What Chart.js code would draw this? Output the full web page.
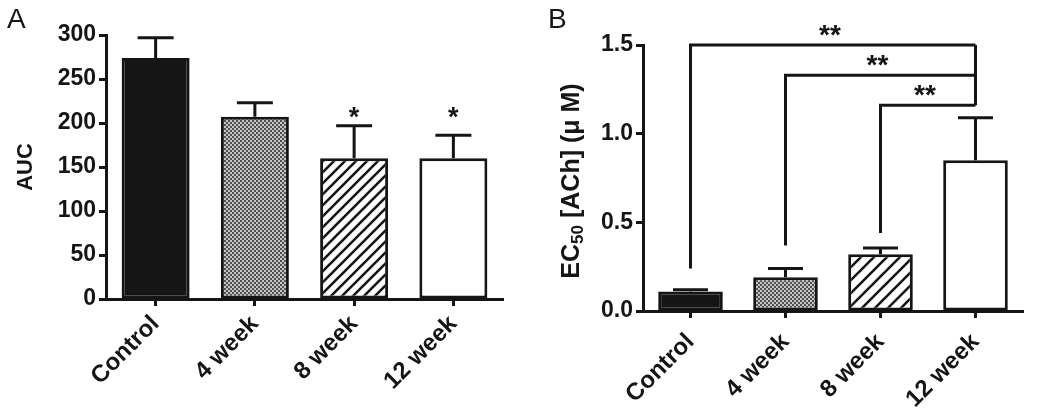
<!DOCTYPE html>
<html>
<head>
<meta charset="utf-8">
<script src="https://cdn.jsdelivr.net/npm/chart.js@4.4.0/dist/chart.umd.min.js"></script>
<style>
  body { margin: 0; background: #fff; }
  #wrap { position: relative; width: 1050px; height: 410px; }
  #chartA { position: absolute; left: 0; top: 0; }
  #chartB { position: absolute; left: 520px; top: 0; }
</style>
</head>
<body>
<div id="wrap">
  <canvas id="chartA" width="520" height="410"></canvas>
  <canvas id="chartB" width="530" height="410"></canvas>
</div>
<script>
const groups = ['Control', '4 week', '8 week', '12 week'];

// panel A - AUC
const aucMean = [274, 207, 160, 160];
const aucSem = [23, 16, 37, 26];
const aucStars = ['', '', '*', '*'];
const aucStarLevel = 212;
const aucTicks = [0, 50, 100, 150, 200, 250, 300];

// panel B - EC50
const ec50Mean = [0.11, 0.19, 0.32, 0.85];
const ec50Sem = [0.01, 0.05, 0.035, 0.24];
const ec50Ticks = [0.0, 0.5, 1.0, 1.5];
// comparisons against 12 week
const compFrom = [0, 1, 2];
const compTo = 3;
const compLevel = [1.5, 1.33, 1.16];
const compDrop = [0.24, 0.37, 0.44];
const compLabel = ['**', '**', '**'];

const ink = '#151515';
const fontFam = '"Liberation Sans", Arial, sans-serif';

function dotPattern(ctx) {
  const c = document.createElement('canvas');
  c.width = 4; c.height = 4;
  const g = c.getContext('2d');
  g.fillStyle = '#c4c4c4';
  g.fillRect(0, 0, 4, 4);
  g.fillStyle = '#505050';
  g.fillRect(0, 0, 2, 2);
  g.fillRect(2, 2, 2, 2);
  return ctx.createPattern(c, 'repeat');
}

function hatchPattern(ctx, size, lw) {
  const c = document.createElement('canvas');
  c.width = size; c.height = size;
  const g = c.getContext('2d');
  g.fillStyle = '#fff';
  g.fillRect(0, 0, size, size);
  g.strokeStyle = ink;
  g.lineWidth = lw;
  g.beginPath();
  g.moveTo(-2, size + 2); g.lineTo(size + 2, -2);
  g.moveTo(-2, 2); g.lineTo(2, -2);
  g.moveTo(size - 2, size + 2); g.lineTo(size + 2, size - 2);
  g.stroke();
  return ctx.createPattern(c, 'repeat');
}

function errorBars(sem, cap) {
  return {
    id: 'errorBars',
    afterDatasetsDraw(chart) {
      const ctx = chart.ctx;
      const y = chart.scales.y;
      const vals = chart.data.datasets[0].data;
      ctx.save();
      ctx.strokeStyle = ink;
      ctx.lineWidth = 3;
      chart.getDatasetMeta(0).data.forEach((bar, i) => {
        const top = y.getPixelForValue(vals[i] + sem[i]);
        ctx.beginPath();
        ctx.moveTo(bar.x, bar.y);
        ctx.lineTo(bar.x, top);
        ctx.moveTo(bar.x - cap / 2, top);
        ctx.lineTo(bar.x + cap / 2, top);
        ctx.stroke();
      });
      ctx.restore();
    }
  };
}

function panelLetter(letter, x, y) {
  return {
    id: 'panelLetter',
    afterDraw(chart) {
      const ctx = chart.ctx;
      ctx.save();
      ctx.fillStyle = ink;
      ctx.font = '28px ' + fontFam;
      ctx.textBaseline = 'alphabetic';
      ctx.fillText(letter, x, y);
      ctx.restore();
    }
  };
}

const aucStarPlugin = {
  id: 'aucStars',
  afterDraw(chart) {
    const ctx = chart.ctx;
    const yc = chart.scales.y.getPixelForValue(aucStarLevel);
    ctx.save();
    ctx.fillStyle = ink;
    ctx.font = 'bold 27px ' + fontFam;
    ctx.textAlign = 'center';
    ctx.textBaseline = 'alphabetic';
    chart.getDatasetMeta(0).data.forEach((bar, i) => {
      if (aucStars[i]) ctx.fillText(aucStars[i], bar.x, yc + 14);
    });
    ctx.restore();
  }
};

const bracketPlugin = {
  id: 'brackets',
  afterDraw(chart) {
    const ctx = chart.ctx;
    const x = chart.scales.x, y = chart.scales.y;
    const xr = x.getPixelForValue(compTo);
    ctx.save();
    ctx.strokeStyle = ink;
    ctx.lineWidth = 3;
    ctx.fillStyle = ink;
    ctx.font = 'bold 28px ' + fontFam;
    ctx.textAlign = 'center';
    ctx.textBaseline = 'alphabetic';
    let topMost = Infinity;
    compFrom.forEach((g, i) => {
      const xl = x.getPixelForValue(g);
      const yl = y.getPixelForValue(compLevel[i]);
      const yd = y.getPixelForValue(compDrop[i]);
      topMost = Math.min(topMost, yl);
      ctx.beginPath();
      ctx.moveTo(xl, yd);
      ctx.lineTo(xl, yl);
      ctx.lineTo(xr, yl);
      ctx.stroke();
      ctx.fillText(compLabel[i], (xl + xr) / 2 - 3, yl - 1);
    });
    const yBottom = y.getPixelForValue(Math.min(...compLevel));
    ctx.beginPath();
    ctx.moveTo(xr, topMost);
    ctx.lineTo(xr, yBottom);
    ctx.stroke();
    ctx.restore();
  }
};

// y title with subscript for panel B
const ec50Title = {
  id: 'ec50Title',
  afterDraw(chart) {
    const ctx = chart.ctx;
    const area = chart.chartArea;
    const cx = 52, cy = (area.top + area.bottom) / 2 + 3;
    const big = 'bold 25px ' + fontFam;
    const small = 'bold 17px ' + fontFam;
    const parts = [['EC', big, 0], ['50', small, 6], [' [ACh] (\u03bc M)', big, 0]];
    ctx.save();
    let total = 0;
    parts.forEach(p => { ctx.font = p[1]; total += ctx.measureText(p[0]).width; });
    ctx.translate(cx, cy);
    ctx.rotate(-Math.PI / 2);
    ctx.fillStyle = ink;
    ctx.textBaseline = 'middle';
    let px = -total / 2;
    parts.forEach(p => {
      ctx.font = p[1];
      ctx.fillText(p[0], px, p[2]);
      px += ctx.measureText(p[0]).width;
    });
    ctx.restore();
  }
};

function axisOptions(yMin, yMax, step, fmt, yWidth, xHeight, labelPad, yTitle) {
  return {
    x: {
      z: 1,
      border: { display: true, color: ink, width: 3 },
      grid: { offset: false, drawOnChartArea: false, drawTicks: true, tickLength: 7, tickWidth: 3, tickColor: ink, color: ink },
      ticks: { color: ink, font: { family: fontFam, size: 24, weight: 'bold' }, minRotation: 45, maxRotation: 45, padding: labelPad, autoSkip: false },
      afterFit(s) { s.height = xHeight; }
    },
    y: {
      z: 1,
      min: yMin, max: yMax,
      border: { display: true, color: ink, width: 3 },
      grid: { drawOnChartArea: false, drawTicks: true, tickLength: 7, tickWidth: 3, tickColor: ink, color: ink },
      ticks: { stepSize: step, color: ink, padding: 3, font: { family: fontFam, size: 23, weight: 'bold' }, callback: fmt },
      title: yTitle,
      afterFit(s) { s.width = yWidth; }
    }
  };
}

const ctxA = document.getElementById('chartA').getContext('2d');
new Chart(ctxA, {
  type: 'bar',
  data: {
    labels: groups,
    datasets: [{
      label: 'AUC',
      data: aucMean,
      backgroundColor: [ink, dotPattern(ctxA), hatchPattern(ctxA, 11, 2.6), '#ffffff'],
      borderColor: ink,
      borderWidth: 3,
      borderSkipped: false,
      barPercentage: 0.685,
      categoryPercentage: 1.0
    }]
  },
  options: {
    responsive: false,
    devicePixelRatio: 1,
    animation: false,
    layout: { padding: { left: 0, right: 17, top: 35, bottom: 0 } },
    plugins: { legend: { display: false }, tooltip: { enabled: false } },
    scales: axisOptions(0, 300, 50, v => v, 106, 111, 4,
      { display: true, text: 'AUC', color: ink, font: { family: fontFam, size: 22, weight: 'bold' }, padding: { top: 13, bottom: 0 } })
  },
  plugins: [errorBars(aucSem, 36), aucStarPlugin, panelLetter('A', 7, 28)]
});

const ctxB = document.getElementById('chartB').getContext('2d');
new Chart(ctxB, {
  type: 'bar',
  data: {
    labels: groups,
    datasets: [{
      label: 'EC50',
      data: ec50Mean,
      backgroundColor: [ink, dotPattern(ctxB), hatchPattern(ctxB, 13, 2.6), '#ffffff'],
      borderColor: ink,
      borderWidth: 3,
      borderSkipped: false,
      barPercentage: 0.68,
      categoryPercentage: 1.0
    }]
  },
  options: {
    responsive: false,
    devicePixelRatio: 1,
    animation: false,
    layout: { padding: { left: 0, right: 27, top: 45, bottom: 0 } },
    plugins: { legend: { display: false }, tooltip: { enabled: false } },
    scales: axisOptions(0, 1.5, 0.5, v => Number(v).toFixed(1), 123, 99, 10, { display: false })
  },
  plugins: [errorBars(ec50Sem, 35), bracketPlugin, ec50Title, panelLetter('B', 28, 28)]
});
</script>
</body>
</html>
